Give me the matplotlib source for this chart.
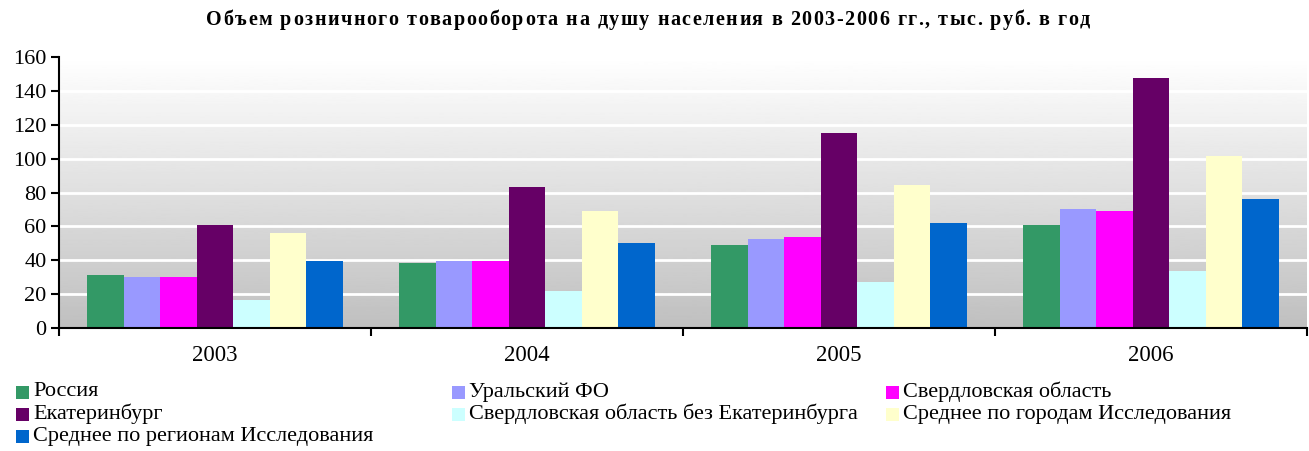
import matplotlib
matplotlib.use("Agg")
import matplotlib.pyplot as plt
import numpy as np
from matplotlib.patches import Rectangle

plt.rcParams['font.family'] = ['Liberation Serif', 'DejaVu Serif']

years = ["2003", "2004", "2005", "2006"]
series_names = [
    "Россия",
    "Уральский ФО",
    "Свердловская область",
    "Екатеринбург",
    "Свердловская область без Екатеринбурга",
    "Среднее по городам Исследования",
    "Среднее по регионам Исследования",
]
russia = [31.3, 38.4, 49.0, 60.8]
ural = [30.0, 39.7, 52.5, 70.2]
sverdl = [30.0, 39.7, 53.7, 69.0]
ekb = [60.8, 83.2, 115.0, 147.6]
sverdl_wo = [16.5, 21.8, 27.2, 33.6]
cities = [56.0, 69.0, 84.4, 101.5]
regions = [39.6, 50.0, 62.0, 76.0]
values = [russia, ural, sverdl, ekb, sverdl_wo, cities, regions]
colors = ["#339966", "#9999FF", "#FF00FF", "#660066", "#CCFFFF", "#FFFFCC", "#0066CC"]
yticks = [0, 20, 40, 60, 80, 100, 120, 140, 160]
title = "Объем розничного товарооборота на душу населения в 2003-2006 гг., тыс. руб. в год"

W, H = 1309, 451
fig = plt.figure(figsize=(W / 100, H / 100), dpi=100)
ax = fig.add_axes([59 / W, 1 - 328 / H, (1307 - 59) / W, (328 - 57) / H])

# gradient background
grad = np.linspace(0.75, 1.0, 256).reshape(-1, 1)
ax.imshow(grad, aspect='auto', cmap='gray', vmin=0, vmax=1, origin='lower',
          extent=[-0.5, len(years) - 0.5, 0, 160], zorder=0)

n = len(series_names)
group_w = 0.82
bw = group_w / n
x = np.arange(len(years))
for i, (vals, c) in enumerate(zip(values, colors)):
    ax.bar(x - group_w / 2 + bw * (i + 0.5), vals, width=bw, color=c, zorder=3)

ax.set_xlim(-0.5, len(years) - 0.5)
ax.set_ylim(0, 160)
ax.set_yticks(yticks)
ax.set_yticklabels([str(t) for t in yticks], fontsize=16)
for t in yticks[1:]:
    ax.axhline(t, color='white', lw=2, zorder=1)

ax.set_xticks(x)
ax.set_xticklabels(years, fontsize=16.5)
ax.tick_params(axis='x', length=0, pad=12)
ax.set_xticks(np.arange(-0.5, len(years)), minor=True)
ax.tick_params(axis='x', which='minor', length=6, width=1.5, color='black', direction='out')
ax.tick_params(axis='y', length=6, width=1.5, direction='out', pad=3)
for s in ['top', 'right']:
    ax.spines[s].set_visible(False)
ax.spines['left'].set_linewidth(1.5)
ax.spines['bottom'].set_linewidth(1.5)
ax.spines['left'].set_zorder(5)
ax.spines['bottom'].set_zorder(5)

# letter-spaced bold title
renderer = fig.canvas.get_renderer()
extra = 1.5  # px between characters
widths = []
for ch in title:
    t = fig.text(0, 0, ch if ch != " " else "a", fontsize=14.5, fontweight='bold')
    w = t.get_window_extent(renderer).width
    if ch == " ":
        t2 = fig.text(0, 0, "a a", fontsize=14.5, fontweight='bold')
        w = t2.get_window_extent(renderer).width - 2 * w
        t2.remove()
    t.remove()
    widths.append(w)
total = sum(widths) + extra * (len(title) - 1)
xc = 648 - total / 2
for ch, w in zip(title, widths):
    if ch != " ":
        fig.text(xc / W, 1 - 20 / H, ch, ha='left', va='center', fontsize=14.5, fontweight='bold')
    xc += w + extra

# legend, row-major in 3 columns
col_x = [16, 452, 886]
row_y = [393, 415, 437]
for k, (name, c) in enumerate(zip(series_names, colors)):
    r, cidx = divmod(k, 3)
    x0 = col_x[cidx]
    y0 = row_y[r]
    fig.patches.append(Rectangle((x0 / W, 1 - (y0 + 6) / H), 13 / W, 13 / H,
                                 transform=fig.transFigure, facecolor=c, edgecolor='none'))
    fig.text((x0 + 17) / W, 1 - (y0 - 1) / H, name, ha='left', va='center', fontsize=16)

fig.savefig("out.png", dpi=100)
